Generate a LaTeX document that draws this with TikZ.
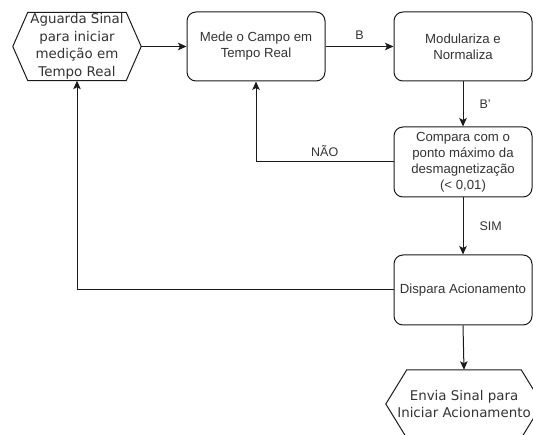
\documentclass[tikz,border=0pt]{standalone}
\usepackage{fontspec}
\setmainfont{Liberation Sans}
\newfontfamily\hexfont{DejaVu Sans}
\usetikzlibrary{arrows.meta,calc}
\definecolor{txt}{HTML}{333333}
\definecolor{ln}{HTML}{1A1A1A}
\begin{document}
\begin{tikzpicture}[x=1pt,y=-1pt,
  box/.style={draw=ln, rounded corners=9pt, minimum width=138pt, minimum height=69pt,
    align=center, font=\fontsize{13.2}{16}\selectfont, text=txt, inner sep=0pt, line width=1pt},
  hexnode/.style={minimum width=#1, minimum height=68pt, inner sep=0pt, align=center,
    font=\hexfont\fontsize{13.4}{17.5}\selectfont, text=txt},
  hexline/.style={draw=ln, line width=1pt, line join=miter},
  conn/.style={draw=ln, line width=1pt},
  arr/.style={conn, -{Stealth[length=8.5pt,width=7.5pt,inset=2pt]}},
  lbl/.style={font=\fontsize{12.5}{14}\selectfont, text=txt, inner sep=0pt}
]
\useasboundingbox (0,0) rectangle (533,435);
\clip (0,0) rectangle (533,435);

% hexagon 1
\node[hexnode=128pt] (h1) at (77,46.5) {Aguarda Sinal\\para iniciar\\medição em\\Tempo Real};
\draw[hexline] (h1.west) -- ($(h1.north west)+(15,0)$) -- ($(h1.north east)+(-15,0)$)
  -- (h1.east) -- ($(h1.south east)+(-15,0)$) -- ($(h1.south west)+(15,0)$) -- cycle;

% boxes
\node[box] (mede) at (256,46.5) {Mede o Campo em\\Tempo Real};
\node[box] (mod) at (463,46.5) {Modulariza e\\Normaliza};
\node[box, minimum height=70pt] (cmp) at (463,162) {Compara com o\\ponto máximo da\\desmagnetização\\(< 0,01)};
\node[box, minimum height=70pt] (disp) at (463,290) {Dispara Acionamento};

% hexagon 2
\node[hexnode=156pt] (h2) at (464,404) {Envia Sinal para\\Iniciar Acionamento};
\draw[hexline] (h2.west) -- ($(h2.north west)+(21,0)$) -- ($(h2.north east)+(-21,0)$)
  -- (h2.east) -- ($(h2.south east)+(-21,0)$) -- ($(h2.south west)+(21,0)$) -- cycle;

% connectors
\draw[arr] (h1.east) -- (mede.west);
\draw[arr] (mede.east) -- node[lbl, above=6pt] {B} (mod.west);
\draw[arr] (mod.south) -- node[lbl, right=16pt] {B'} (cmp.north);
\draw[arr] (cmp.west) -- node[lbl, above=5pt] {NÃO} (cmp.west -| mede.south) -- (mede.south);
\draw[arr] (cmp.south) -- node[lbl, right=16pt] {SIM} (disp.north);
\draw[arr] (disp.west) -- (disp.west -| h1.south) -- (h1.south);
\draw[arr] (disp.south) -- (h2.north);
\end{tikzpicture}
\end{document}
